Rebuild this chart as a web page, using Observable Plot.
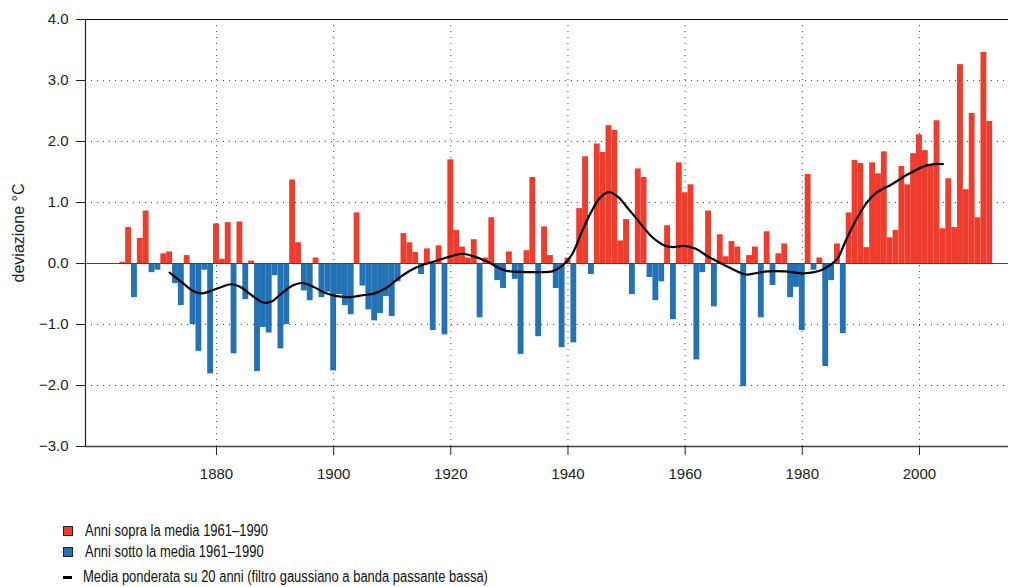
<!DOCTYPE html>
<html>
<head>
<meta charset="utf-8">
<script src="https://cdn.jsdelivr.net/npm/d3@7"></script>
<script src="https://cdn.jsdelivr.net/npm/@observablehq/plot@0.6"></script>
<style>
  html, body { margin: 0; padding: 0; background: #fff; }
  #chart { width: 1016px; }
  .legend { position: relative; width: 1016px; height: 87px; font-family: "Liberation Sans", Arial, sans-serif; font-size: 16px; color: #111; }
  .legend .row { position: absolute; left: 63px; height: 20px; display: flex; align-items: center; white-space: nowrap; }
  .legend .sw { width: 10px; height: 10px; box-sizing: border-box; border: 1px solid #222; margin-right: 12px; flex: none; }
  .legend .dash { width: 9px; height: 3px; background: #000; margin-right: 11px; flex: none; }
  .legend span { display: inline-block; transform: scaleX(0.81); transform-origin: left center; }
</style>
</head>
<body>
<div id="chart"></div>
<div class="legend" id="legend"></div>
<script>
// ---- data ----
const firstYear = 1864;
const anomalies = [
  0.02, 0.59, -0.56, 0.41, 0.86, -0.15, -0.11, 0.16, 0.19, -0.33,   // 1864-1873
  -0.69, 0.13, -1.00, -1.44, -0.11, -1.81, 0.65, 0.07, 0.67, -1.48, // 1874-1883
  0.68, -0.59, 0.04, -1.77, -1.05, -1.14, -0.20, -1.40, -1.00, 1.37, // 1884-1893
  0.34, -0.45, -0.61, 0.09, -0.56, -0.47, -1.76, -0.51, -0.69, -0.84, // 1894-1903
  0.83, -0.37, -0.76, -0.94, -0.82, -0.54, -0.87, -0.30, 0.49, 0.34, // 1904-1913
  0.18, -0.18, 0.24, -1.10, 0.29, -1.17, 1.70, 0.54, 0.27, 0.09,     // 1914-1923
  0.39, -0.89, 0.09, 0.75, -0.28, -0.41, 0.19, -0.26, -1.49, 0.21,   // 1924-1933
  1.41, -1.20, 0.60, 0.13, -0.41, -1.38, 0.09, -1.30, 0.90, 1.75,    // 1934-1943
  -0.18, 1.96, 1.82, 2.26, 2.18, 0.37, 0.72, -0.51, 1.55, 1.41,      // 1944-1953
  -0.23, -0.61, -0.30, 0.62, -0.92, 1.65, 1.16, 1.29, -1.58, -0.15,  // 1954-1963
  0.86, -0.71, 0.47, 0.11, 0.36, 0.27, -2.02, 0.13, 0.27, -0.89,     // 1964-1973
  0.52, -0.36, 0.16, 0.32, -0.56, -0.39, -1.10, 1.46, -0.11, 0.09,   // 1974-1983
  -1.69, -0.28, 0.32, -1.15, 0.83, 1.69, 1.64, 0.26, 1.65, 1.47,     // 1984-1993
  1.83, 0.42, 0.54, 1.59, 1.29, 1.80, 2.11, 1.85, 1.62, 2.34,        // 1994-2003
  0.57, 1.39, 0.59, 3.26, 1.21, 2.46, 0.75, 3.46, 2.33               // 2004-2012
];
const smoothYears = [1872, 1874, 1876, 1877.5, 1879, 1881, 1882.5, 1884, 1886, 1888, 1889.5, 1891, 1893, 1894.6, 1896.5, 1898.5, 1900.3, 1903, 1905, 1907, 1909, 1910.6, 1912, 1914, 1916, 1917.4, 1919, 1920.8, 1922, 1923.5, 1926, 1928, 1929.5, 1932.7, 1935, 1937.3, 1939, 1940.7, 1942.5, 1944, 1945.5, 1947, 1948.7, 1950, 1951.5, 1953, 1954.4, 1956.6, 1958, 1960, 1961.8, 1964, 1967, 1970.3, 1972, 1974, 1977, 1980.5, 1983, 1984.5, 1986, 1987.4, 1989.1, 1990.8, 1992.5, 1995.3, 1998.2, 2001, 2002.5, 2004];
const smoothValues = [-0.15, -0.30, -0.45, -0.49, -0.45, -0.38, -0.34, -0.38, -0.52, -0.64, -0.62, -0.50, -0.36, -0.32, -0.38, -0.48, -0.53, -0.55, -0.52, -0.49, -0.40, -0.28, -0.18, -0.07, 0.00, 0.04, 0.09, 0.14, 0.16, 0.13, 0.04, -0.06, -0.12, -0.14, -0.14, -0.13, -0.04, 0.15, 0.55, 0.85, 1.08, 1.17, 1.08, 0.93, 0.76, 0.58, 0.43, 0.29, 0.27, 0.29, 0.24, 0.11, -0.04, -0.18, -0.16, -0.13, -0.13, -0.16, -0.12, -0.04, 0.08, 0.37, 0.70, 0.97, 1.15, 1.30, 1.47, 1.60, 1.63, 1.63];
const xTicks = [1880, 1900, 1920, 1940, 1960, 1980, 2000];
const yTicks = [-3, -2, -1, 0, 1, 2, 3, 4];
const gridY = [-2, -1, 1, 2, 3];
const yTitle = "deviazione °C";
const legendLabels = ["Anni sopra la media 1961\u20131990", "Anni sotto la media 1961\u20131990", "Media ponderata su 20 anni (filtro gaussiano a banda passante bassa)"];
const colorAbove = "#F03C2D";
const colorBelow = "#2272B5";

// ---- build ----
const bars = anomalies.map((v, i) => ({year: firstYear + i, value: v}));
const smooth = smoothYears.map((y, i) => ({year: y, value: smoothValues[i]}));
const xDomain = [1857.64, 2015.2];

const chart = Plot.plot({
  width: 1016,
  height: 500,
  marginTop: 19,
  marginBottom: 54,
  marginLeft: 85,
  marginRight: 8,
  style: {fontFamily: "'Liberation Sans', Arial, sans-serif", fontSize: "15px", color: "#222", background: "#fff"},
  x: {domain: xDomain, type: "linear"},
  y: {domain: [-3, 4]},
  marks: [
    Plot.ruleY(gridY, {stroke: "#444", strokeDasharray: "1,5", strokeWidth: 1}),
    Plot.ruleX(xTicks, {stroke: "#444", strokeDasharray: "1,5", strokeWidth: 1}),
    Plot.rectY(bars, {x1: d => d.year - 0.5, x2: d => d.year + 0.5, y1: 0, y2: "value", fill: d => d.value >= 0 ? colorAbove : colorBelow, inset: 0}),
    Plot.ruleY([0], {stroke: "#444", strokeWidth: 1.2}),
    Plot.line(smooth, {x: "year", y: "value", stroke: "#000", strokeWidth: 2.2, curve: "catmull-rom"}),
    Plot.ruleY([4], {stroke: "#111", strokeWidth: 1.2}),
    Plot.ruleY([-3], {stroke: "#444", strokeWidth: 1.5}),
    Plot.frame({anchor: "left", stroke: "#222", strokeWidth: 1.2}),
    Plot.axisX({ticks: xTicks, tickFormat: d => String(d), tickSize: 9, tickPadding: 13, label: null, fontSize: 15}),
    Plot.axisY({ticks: yTicks, tickFormat: d3.format(".1f"), tickSize: 9, tickPadding: 8, fontSize: 15, label: null}),
    Plot.text([yTitle], {frameAnchor: "left", textAnchor: "middle", lineAnchor: "middle", rotate: -90, dx: -67, fontSize: 16, fill: "#222"})
  ]
});
document.getElementById("chart").appendChild(chart);

// ---- legend ----
const legend = document.getElementById("legend");
const rows = [
  {top: 21, kind: "sw", color: colorAbove, label: legendLabels[0]},
  {top: 42, kind: "sw", color: colorBelow, label: legendLabels[1]},
  {top: 67, kind: "dash", color: "#000", label: legendLabels[2]}
];
rows.forEach(r => {
  const row = document.createElement("div");
  row.className = "row";
  row.style.top = r.top + "px";
  const s = document.createElement("div");
  s.className = r.kind;
  if (r.kind === "sw") s.style.background = r.color;
  row.appendChild(s);
  const t = document.createElement("span");
  t.textContent = r.label;
  row.appendChild(t);
  legend.appendChild(row);
});
</script>
</body>
</html>
